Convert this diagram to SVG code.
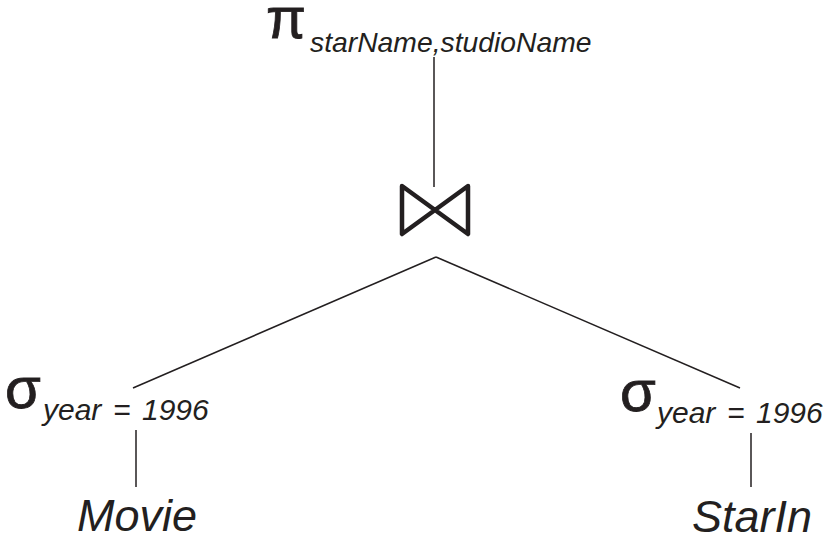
<svg xmlns="http://www.w3.org/2000/svg" width="825" height="538" viewBox="0 0 825 538">
<style>
.op{font-family:"Liberation Sans",Arial,sans-serif;font-size:58px;fill:#231f20;stroke:#231f20;stroke-width:0.8}
.sub{font-family:"Liberation Sans",Arial,sans-serif;font-size:30px;font-style:italic;fill:#231f20}
.rel{font-family:"Liberation Sans",Arial,sans-serif;font-size:45px;font-style:italic;fill:#231f20}
.edge{stroke:#231f20;stroke-width:1.5;fill:none}
</style>
<rect width="825" height="538" fill="#fff"/>
<g id="connectors">
<line class="edge" x1="434" y1="57" x2="434" y2="187"/>
<line class="edge" x1="436" y1="257" x2="133" y2="388"/>
<line class="edge" x1="436" y1="257" x2="740" y2="388"/>
<line class="edge" x1="136" y1="430" x2="136" y2="487"/>
<line class="edge" x1="751" y1="433" x2="751" y2="487"/>
</g>
<g id="project">
<text class="op" x="266" y="38">π</text>
<text class="sub" x="310" y="52" style="font-size:28.3px">starName,studioName</text>
</g>
<g id="join">
<path d="M402,186 L468,234 L468,186 L402,234 Z" fill="none" stroke="#231f20" stroke-width="4.5" stroke-linejoin="round"/>
</g>
<g id="select-left">
<text class="op" x="5" y="408">σ</text>
<text class="sub" y="420"><tspan x="43">year</tspan><tspan x="113">=</tspan><tspan x="142">1996</tspan></text>
</g>
<g id="select-right">
<text class="op" x="620" y="411">σ</text>
<text class="sub" y="423"><tspan x="657">year</tspan><tspan x="727">=</tspan><tspan x="756">1996</tspan></text>
</g>
<g id="movie">
<text class="rel" x="77" y="531">Movie</text>
</g>
<g id="starsin">
<text class="rel" x="692" y="532">StarIn</text>
</g>
</svg>
